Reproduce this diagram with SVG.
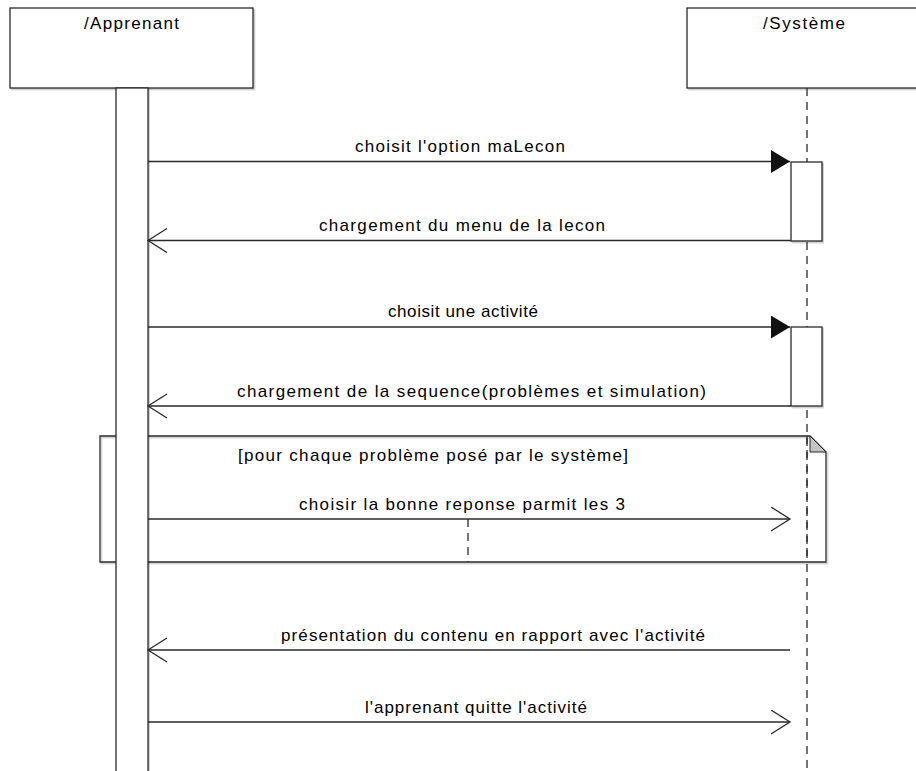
<svg xmlns="http://www.w3.org/2000/svg" width="916" height="771" viewBox="0 0 916 771">
<style>
  .box { fill: #ffffff; stroke: #2a2a2a; stroke-width: 1.3; }
  .ln { fill: none; stroke: #2a2a2a; stroke-width: 1.3; }
  .dash { fill: none; stroke: #2a2a2a; stroke-width: 1.3; stroke-dasharray: 8 6; }
  .t { font-family: "Liberation Sans", Arial, sans-serif; font-size: 17px; fill: #000000; }
  .tm { text-anchor: start; }
</style>
<defs>
  <filter id="sh" x="-5%" y="-5%" width="110%" height="110%">
    <feDropShadow dx="1.5" dy="1.5" stdDeviation="0.7" flood-color="#000" flood-opacity="0.22"/>
  </filter>
  <marker id="filled" markerWidth="20" markerHeight="24" refX="19" refY="11.5" orient="auto" markerUnits="userSpaceOnUse">
    <path d="M0,0 L19,11.5 L0,23 Z" fill="#111"/>
  </marker>
  <marker id="open" markerWidth="22" markerHeight="26" refX="19.5" refY="12.5" orient="auto" markerUnits="userSpaceOnUse">
    <path d="M0.5,0.5 L19.5,12.5 L0.5,24.5" fill="none" stroke="#2a2a2a" stroke-width="1.3"/>
  </marker>
</defs>

<g id="lifeline-systeme">
  <line class="dash" x1="807" y1="88" x2="807" y2="771"/>
</g>

<g id="apprenant">
  <rect class="box" x="10" y="8" width="243" height="80" filter="url(#sh)"/>
  <text class="t tm" x="84" y="29" textLength="95" lengthAdjust="spacing">/Apprenant</text>
</g>

<g id="systeme">
  <rect class="box" x="687" y="8" width="241" height="80" filter="url(#sh)"/>
  <text class="t tm" x="763" y="29" textLength="82" lengthAdjust="spacing">/Système</text>
</g>

<g id="fragment-loop">
  <path class="ln" d="M100,436 H810 L826,452 V562 H100 Z" fill="#ffffff" filter="url(#sh)"/>
  <path d="M810,436 L826,452 L810,452 Z" fill="#c4c4c4" stroke="#2a2a2a" stroke-width="1"/>
  <line class="dash" x1="807" y1="436" x2="807" y2="562"/>
  <line class="dash" x1="468" y1="519" x2="468" y2="562"/>
  <text class="t tm" x="238" y="461" textLength="390" lengthAdjust="spacing">[pour chaque problème posé par le système]</text>
</g>

<g id="activation-apprenant">
  <rect class="box" x="116" y="88" width="32" height="700" filter="url(#sh)"/>
</g>

<g id="activation-systeme-1">
  <rect class="box" x="791" y="162" width="31" height="79" filter="url(#sh)"/>
</g>
<g id="activation-systeme-2">
  <rect class="box" x="791" y="327" width="31" height="79" filter="url(#sh)"/>
</g>

<g id="connectors">
  <line class="ln" x1="148" y1="161.5" x2="790" y2="161.5" marker-end="url(#filled)"/>
  <text class="t tm" x="355" y="152" textLength="210" lengthAdjust="spacing">choisit l'option maLecon</text>

  <line class="ln" x1="791" y1="240.5" x2="148" y2="240.5" marker-end="url(#open)"/>
  <text class="t tm" x="319" y="231" textLength="286" lengthAdjust="spacing">chargement du menu de la lecon</text>

  <line class="ln" x1="148" y1="327" x2="790" y2="327" marker-end="url(#filled)"/>
  <text class="t tm" x="388" y="317" textLength="150" lengthAdjust="spacing">choisit une activité</text>

  <line class="ln" x1="791" y1="406" x2="148" y2="406" marker-end="url(#open)"/>
  <text class="t tm" x="237" y="397" textLength="469" lengthAdjust="spacing">chargement de la sequence(problèmes et simulation)</text>

  <line class="ln" x1="148" y1="519" x2="790" y2="519" marker-end="url(#open)"/>
  <text class="t tm" x="299" y="510" textLength="326" lengthAdjust="spacing">choisir la bonne reponse parmit les 3</text>

  <line class="ln" x1="790" y1="650" x2="148" y2="650" marker-end="url(#open)"/>
  <text class="t tm" x="281" y="641" textLength="424" lengthAdjust="spacing">présentation du contenu en rapport avec l'activité</text>

  <line class="ln" x1="148" y1="722" x2="790" y2="722" marker-end="url(#open)"/>
  <text class="t tm" x="365" y="713" textLength="222" lengthAdjust="spacing">l'apprenant quitte l'activité</text>
</g>
</svg>
